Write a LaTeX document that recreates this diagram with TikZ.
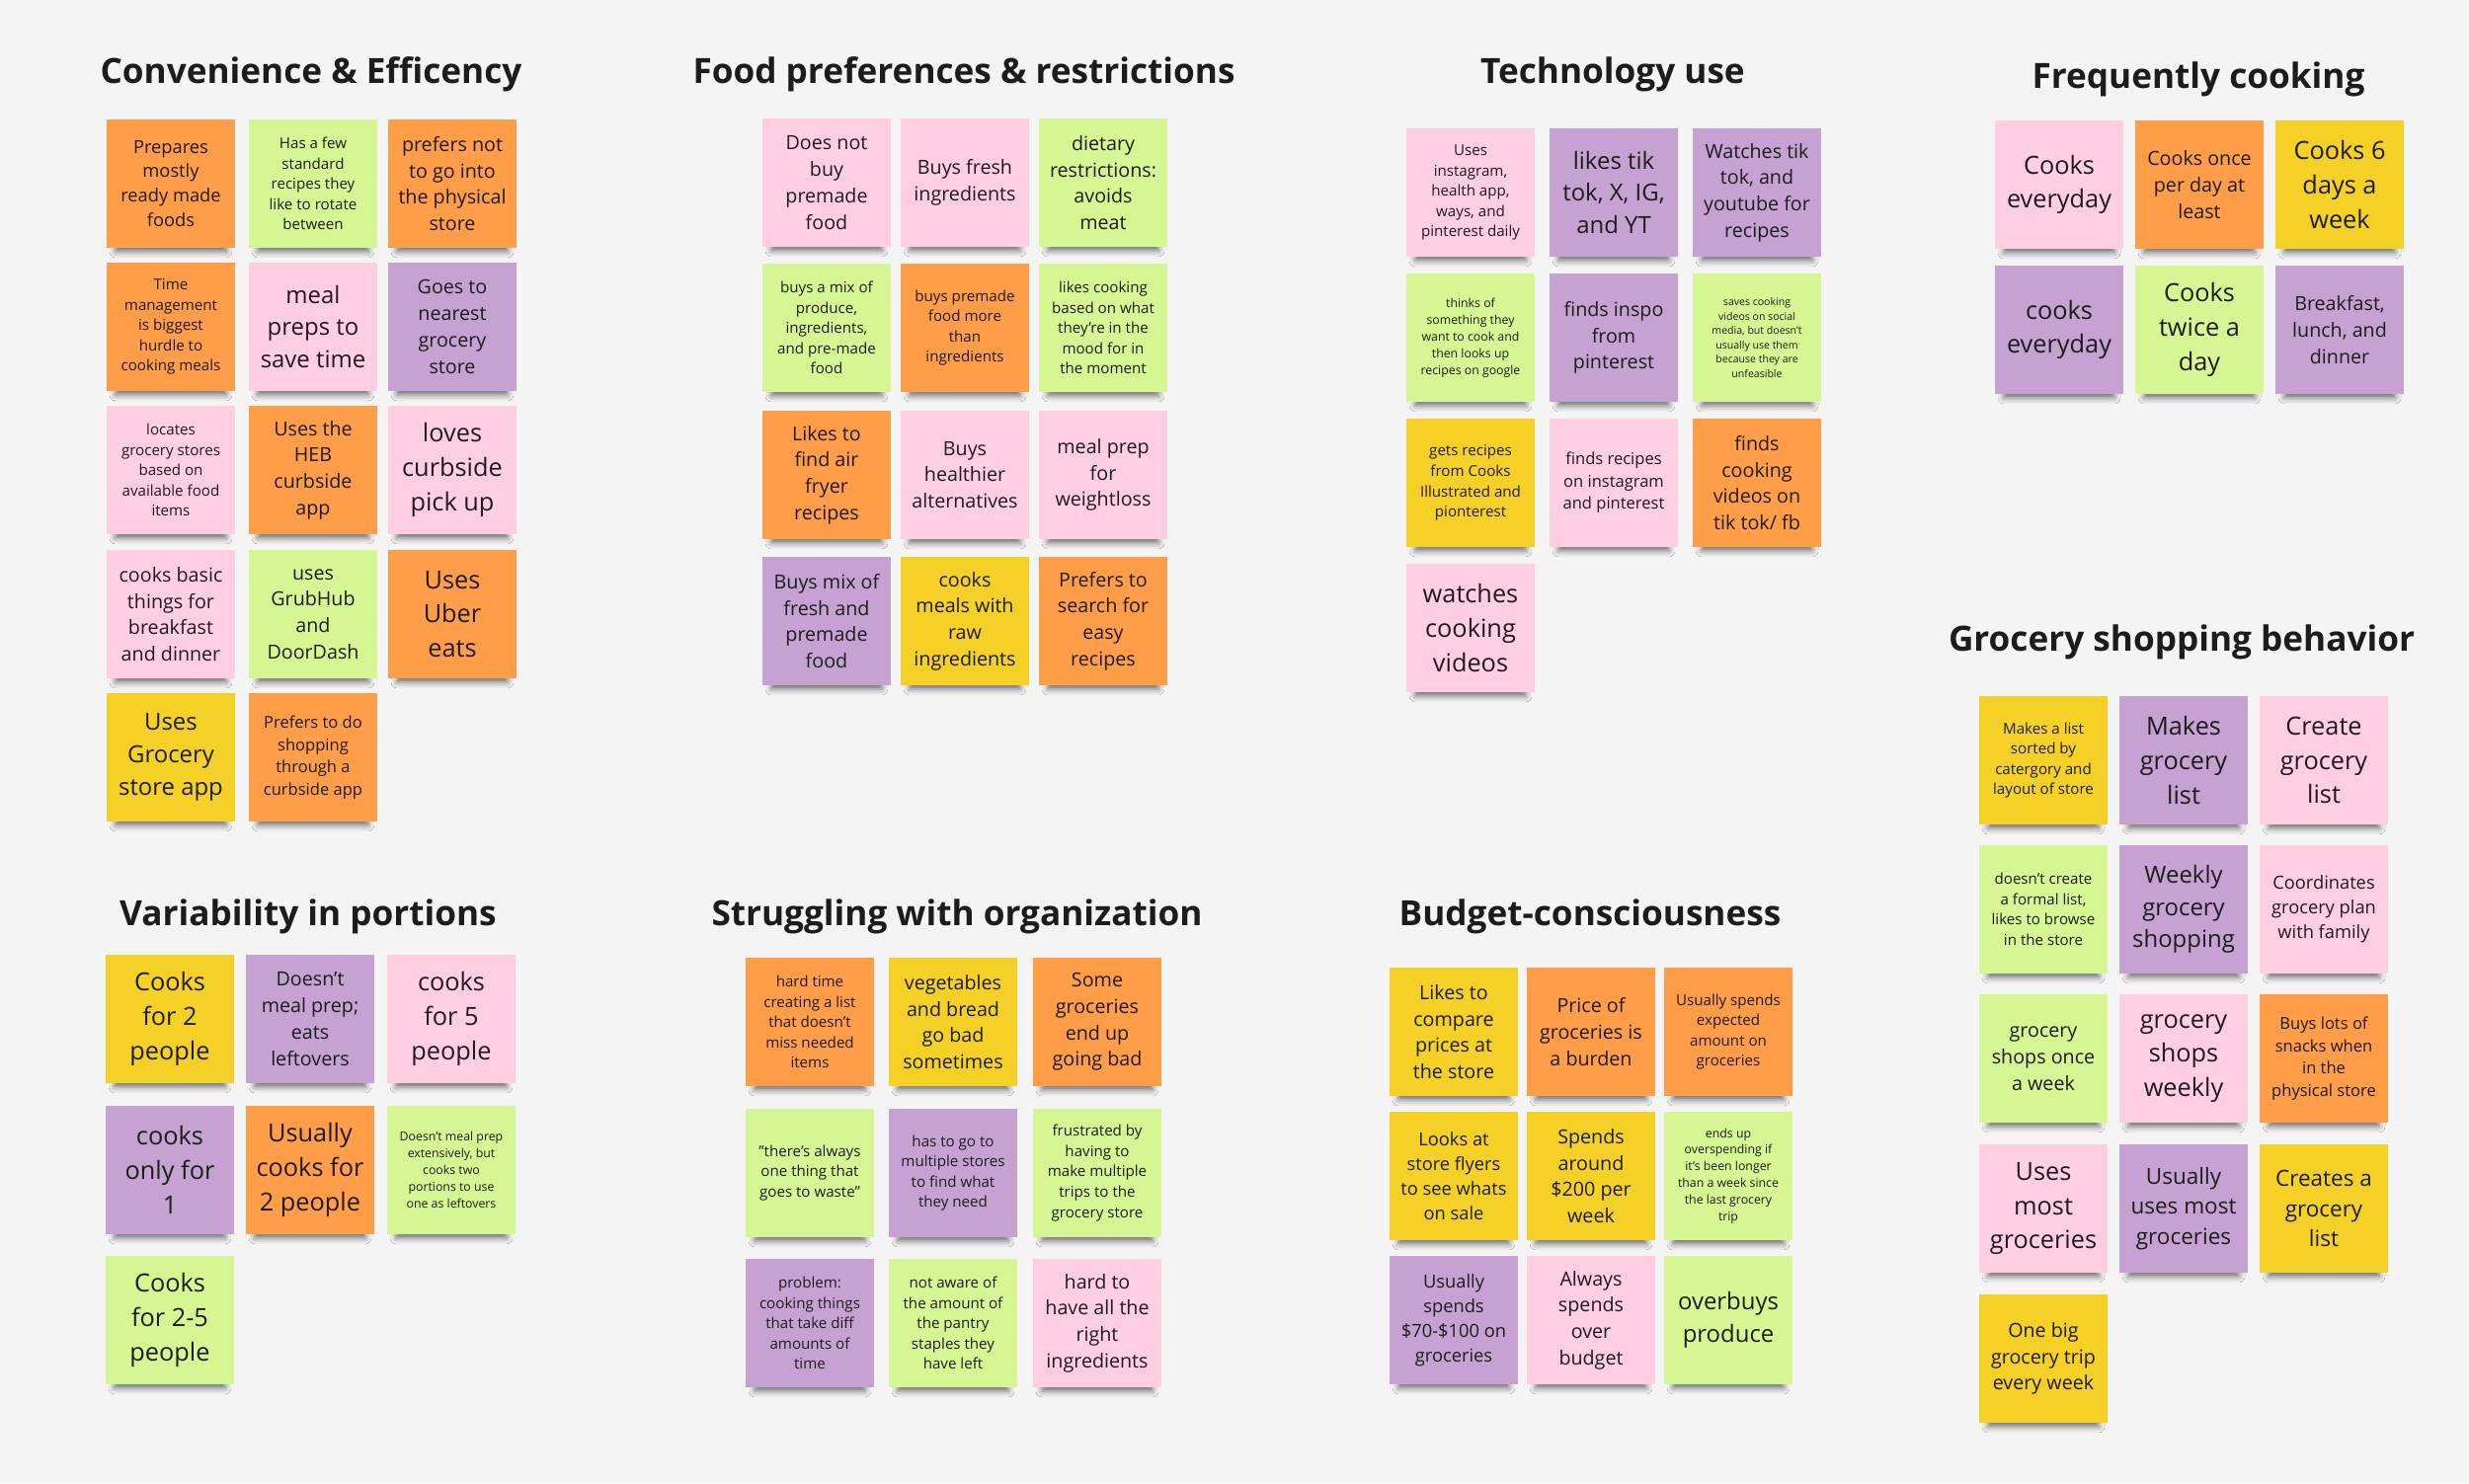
\documentclass[tikz,border=0pt]{standalone}
\usepackage{fontspec}
\setmainfont{Open Sans}
\usetikzlibrary{shadows.blur}
\definecolor{board}{HTML}{F4F4F4}
\definecolor{ink}{HTML}{1C1C1C}
\definecolor{orangenote}{HTML}{FF9D48}
\definecolor{yellownote}{HTML}{F5D128}
\definecolor{greennote}{HTML}{D5F692}
\definecolor{pinknote}{HTML}{FFCEE0}
\definecolor{purplenote}{HTML}{C6A2D2}
\begin{document}
\begin{tikzpicture}[x=0.01cm,y=-0.01cm,
  note/.style={rectangle,minimum width=1.3cm,minimum height=1.3cm,inner sep=0pt,align=center,text=ink,
    blur shadow={shadow xshift=0pt,shadow yshift=-0.15cm,shadow scale=0.86,shadow blur radius=0.07cm,shadow opacity=55}},
  org/.style={note,fill=orangenote},
  ylw/.style={note,fill=yellownote},
  grn/.style={note,fill=greennote},
  pnk/.style={note,fill=pinknote},
  prp/.style={note,fill=purplenote},
  title/.style={font=\fontsize{10}{12}\selectfont\bfseries,text=ink},
  sz1/.style={font=\fontsize{3.0}{4.1}\selectfont},
  sz2/.style={font=\fontsize{3.5}{4.8}\selectfont},
  sz3/.style={font=\fontsize{4.3}{5.85}\selectfont},
  sz4/.style={font=\fontsize{4.7}{6.4}\selectfont},
  sz5/.style={font=\fontsize{5.2}{7.1}\selectfont},
  sz6/.style={font=\fontsize{5.6}{7.6}\selectfont},
  sz7/.style={font=\fontsize{6.4}{8.7}\selectfont},
  sz8/.style={font=\fontsize{6.8}{9.3}\selectfont},
  sz9/.style={font=\fontsize{7.2}{9.9}\selectfont}]
\fill [board] (0,0) rectangle (2500,1502);

\node [title] (convtitle) at (315,75) {Convenience \& Efficency};
\node [title] (foodtitle) at (976,75) {Food preferences \& restrictions};
\node [title] (techtitle) at (1633,75) {Technology use};
\node [title] (freqtitle) at (2226,80) {Frequently cooking};
\node [title] (groctitle) at (2209,650) {Grocery shopping behavior};
\node [title] (vartitle) at (312,928) {Variability in portions};
\node [title] (strugtitle) at (969,928) {Struggling with organization};
\node [title] (budgtitle) at (1610,928) {Budget-consciousness};

\node [org,sz5] (conv1) at (173,186) {Prepares\\mostly\\ready made\\foods};
\node [grn,sz3] (conv2) at (317,186) {Has a few\\standard\\recipes they\\like to rotate\\between};
\node [org,sz6] (conv3) at (458,186) {prefers not\\to go into\\the physical\\store};
\node [org,sz3] (conv4) at (173,331) {Time\\management\\is biggest\\hurdle to\\cooking meals};
\node [pnk,sz8] (conv5) at (317,331) {meal\\preps to\\save time};
\node [prp,sz6] (conv6) at (458,331) {Goes to\\nearest\\grocery\\store};
\node [pnk,sz3] (conv7) at (173,476) {locates\\grocery stores\\based on\\available food\\items};
\node [org,sz6] (conv8) at (317,476) {Uses the\\HEB\\curbside\\app};
\node [pnk,sz9] (conv9) at (458,476) {loves\\curbside\\pick up};
\node [pnk,sz6] (conv10) at (173,622) {cooks basic\\things for\\breakfast\\and dinner};
\node [grn,sz6] (conv11) at (317,622) {uses\\GrubHub\\and\\DoorDash};
\node [org,sz9] (conv12) at (458,622) {Uses\\Uber\\eats};
\node [ylw,sz8] (conv13) at (173,767) {Uses\\Grocery\\store app};
\node [org,sz4] (conv14) at (317,767) {Prefers to do\\shopping\\through a\\curbside app};

\node [pnk,sz6] (food1) at (837,185) {Does not\\buy\\premade\\food};
\node [pnk,sz6] (food2) at (977,185) {Buys fresh\\ingredients};
\node [grn,sz6] (food3) at (1117,185) {dietary\\restrictions:\\avoids\\meat};
\node [grn,sz3] (food4) at (837,332) {buys a mix of\\produce,\\ingredients,\\and pre-made\\food};
\node [org,sz3] (food5) at (977,332) {buys premade\\food more\\than\\ingredients};
\node [grn,sz3] (food6) at (1117,332) {likes cooking\\based on what\\they're in the\\mood for in\\the moment};
\node [org,sz6] (food7) at (837,481) {Likes to\\find air\\fryer\\recipes};
\node [pnk,sz6] (food8) at (977,481) {Buys\\healthier\\alternatives};
\node [pnk,sz6] (food9) at (1117,481) {meal prep\\for\\weightloss};
\node [prp,sz6] (food10) at (837,629) {Buys mix of\\fresh and\\premade\\food};
\node [ylw,sz6] (food11) at (977,629) {cooks\\meals with\\raw\\ingredients};
\node [org,sz6] (food12) at (1117,629) {Prefers to\\search for\\easy\\recipes};

\node [pnk,sz3] (tech1) at (1489,195) {Uses\\instagram,\\health app,\\ways, and\\pinterest daily};
\node [prp,sz8] (tech2) at (1634,195) {likes tik\\tok, X, IG,\\and YT};
\node [prp,sz6] (tech3) at (1779,195) {Watches tik\\tok, and\\youtube for\\recipes};
\node [grn,sz2] (tech4) at (1489,342) {thinks of\\something they\\want to cook and\\then looks up\\recipes on google};
\node [prp,sz6] (tech5) at (1634,342) {finds inspo\\from\\pinterest};
\node [grn,sz1] (tech6) at (1779,342) {saves cooking\\videos on social\\media, but doesn't\\usually use them\\because they are\\unfeasible};
\node [ylw,sz3] (tech7) at (1489,489) {gets recipes\\from Cooks\\Illustrated and\\pionterest};
\node [pnk,sz4] (tech8) at (1634,489) {finds recipes\\on instagram\\and pinterest};
\node [org,sz6] (tech9) at (1779,489) {finds\\cooking\\videos on\\tik tok/ fb};
\node [pnk,sz9] (tech10) at (1489,636) {watches\\cooking\\videos};

\node [pnk,sz9] (freq1) at (2085,187) {Cooks\\everyday};
\node [org,sz6] (freq2) at (2227,187) {Cooks once\\per day at\\least};
\node [ylw,sz9] (freq3) at (2369,187) {Cooks 6\\days a\\week};
\node [prp,sz9] (freq4) at (2085,334) {cooks\\everyday};
\node [grn,sz9] (freq5) at (2227,334) {Cooks\\twice a\\day};
\node [prp,sz6] (freq6) at (2369,334) {Breakfast,\\lunch, and\\dinner};

\node [ylw,sz3] (groc1) at (2069,770) {Makes a list\\sorted by\\catergory and\\layout of store};
\node [prp,sz9] (groc2) at (2211,770) {Makes\\grocery\\list};
\node [pnk,sz9] (groc3) at (2353,770) {Create\\grocery\\list};
\node [grn,sz3] (groc4) at (2069,921) {doesn't create\\a formal list,\\likes to browse\\in the store};
\node [prp,sz8] (groc5) at (2211,921) {Weekly\\grocery\\shopping};
\node [pnk,sz5] (groc6) at (2353,921) {Coordinates\\grocery plan\\with family};
\node [grn,sz6] (groc7) at (2069,1072) {grocery\\shops once\\a week};
\node [pnk,sz9] (groc8) at (2211,1072) {grocery\\shops\\weekly};
\node [org,sz4] (groc9) at (2353,1072) {Buys lots of\\snacks when\\in the\\physical store};
\node [pnk,sz9] (groc10) at (2069,1224) {Uses\\most\\groceries};
\node [prp,sz7] (groc11) at (2211,1224) {Usually\\uses most\\groceries};
\node [ylw,sz7] (groc12) at (2353,1224) {Creates a\\grocery\\list};
\node [ylw,sz6] (groc13) at (2069,1376) {One big\\grocery trip\\every week};

\node [ylw,sz9] (var1) at (172,1032) {Cooks\\for 2\\people};
\node [prp,sz6] (var2) at (314,1032) {Doesn't\\meal prep;\\eats\\leftovers};
\node [pnk,sz9] (var3) at (457,1032) {cooks\\for 5\\people};
\node [prp,sz9] (var4) at (172,1185) {cooks\\only for\\1};
\node [org,sz9] (var5) at (314,1185) {Usually\\cooks for\\2 people};
\node [grn,sz2] (var6) at (457,1185) {Doesn't meal prep\\extensively, but\\cooks two\\portions to use\\one as leftovers};
\node [grn,sz9] (var7) at (172,1337) {Cooks\\for 2-5\\people};

\node [org,sz3] (strug1) at (820,1035) {hard time\\creating a list\\that doesn't\\miss needed\\items};
\node [ylw,sz6] (strug2) at (965,1035) {vegetables\\and bread\\go bad\\sometimes};
\node [org,sz6] (strug3) at (1111,1035) {Some\\groceries\\end up\\going bad};
\node [grn,sz3] (strug4) at (820,1188) {"there's always\\one thing that\\goes to waste"};
\node [prp,sz3] (strug5) at (965,1188) {has to go to\\multiple stores\\to find what\\they need};
\node [grn,sz3] (strug6) at (1111,1188) {frustrated by\\having to\\make multiple\\trips to the\\grocery store};
\node [prp,sz3] (strug7) at (820,1340) {problem:\\cooking things\\that take diff\\amounts of\\time};
\node [grn,sz3] (strug8) at (965,1340) {not aware of\\the amount of\\the pantry\\staples they\\have left};
\node [pnk,sz6] (strug9) at (1111,1340) {hard to\\have all the\\right\\ingredients};

\node [ylw,sz6] (budg1) at (1472,1045) {Likes to\\compare\\prices at\\the store};
\node [org,sz6] (budg2) at (1611,1045) {Price of\\groceries is\\a burden};
\node [org,sz3] (budg3) at (1750,1045) {Usually spends\\expected\\amount on\\groceries};
\node [ylw,sz5] (budg4) at (1472,1191) {Looks at\\store flyers\\to see whats\\on sale};
\node [ylw,sz6] (budg5) at (1611,1191) {Spends\\around\\\$200 per\\week};
\node [grn,sz2] (budg6) at (1750,1191) {ends up\\overspending if\\it's been longer\\than a week since\\the last grocery\\trip};
\node [prp,sz5] (budg7) at (1472,1337) {Usually\\spends\\\$70-\$100 on\\groceries};
\node [pnk,sz6] (budg8) at (1611,1337) {Always\\spends\\over\\budget};
\node [grn,sz8] (budg9) at (1750,1337) {overbuys\\produce};
\end{tikzpicture}
\end{document}
